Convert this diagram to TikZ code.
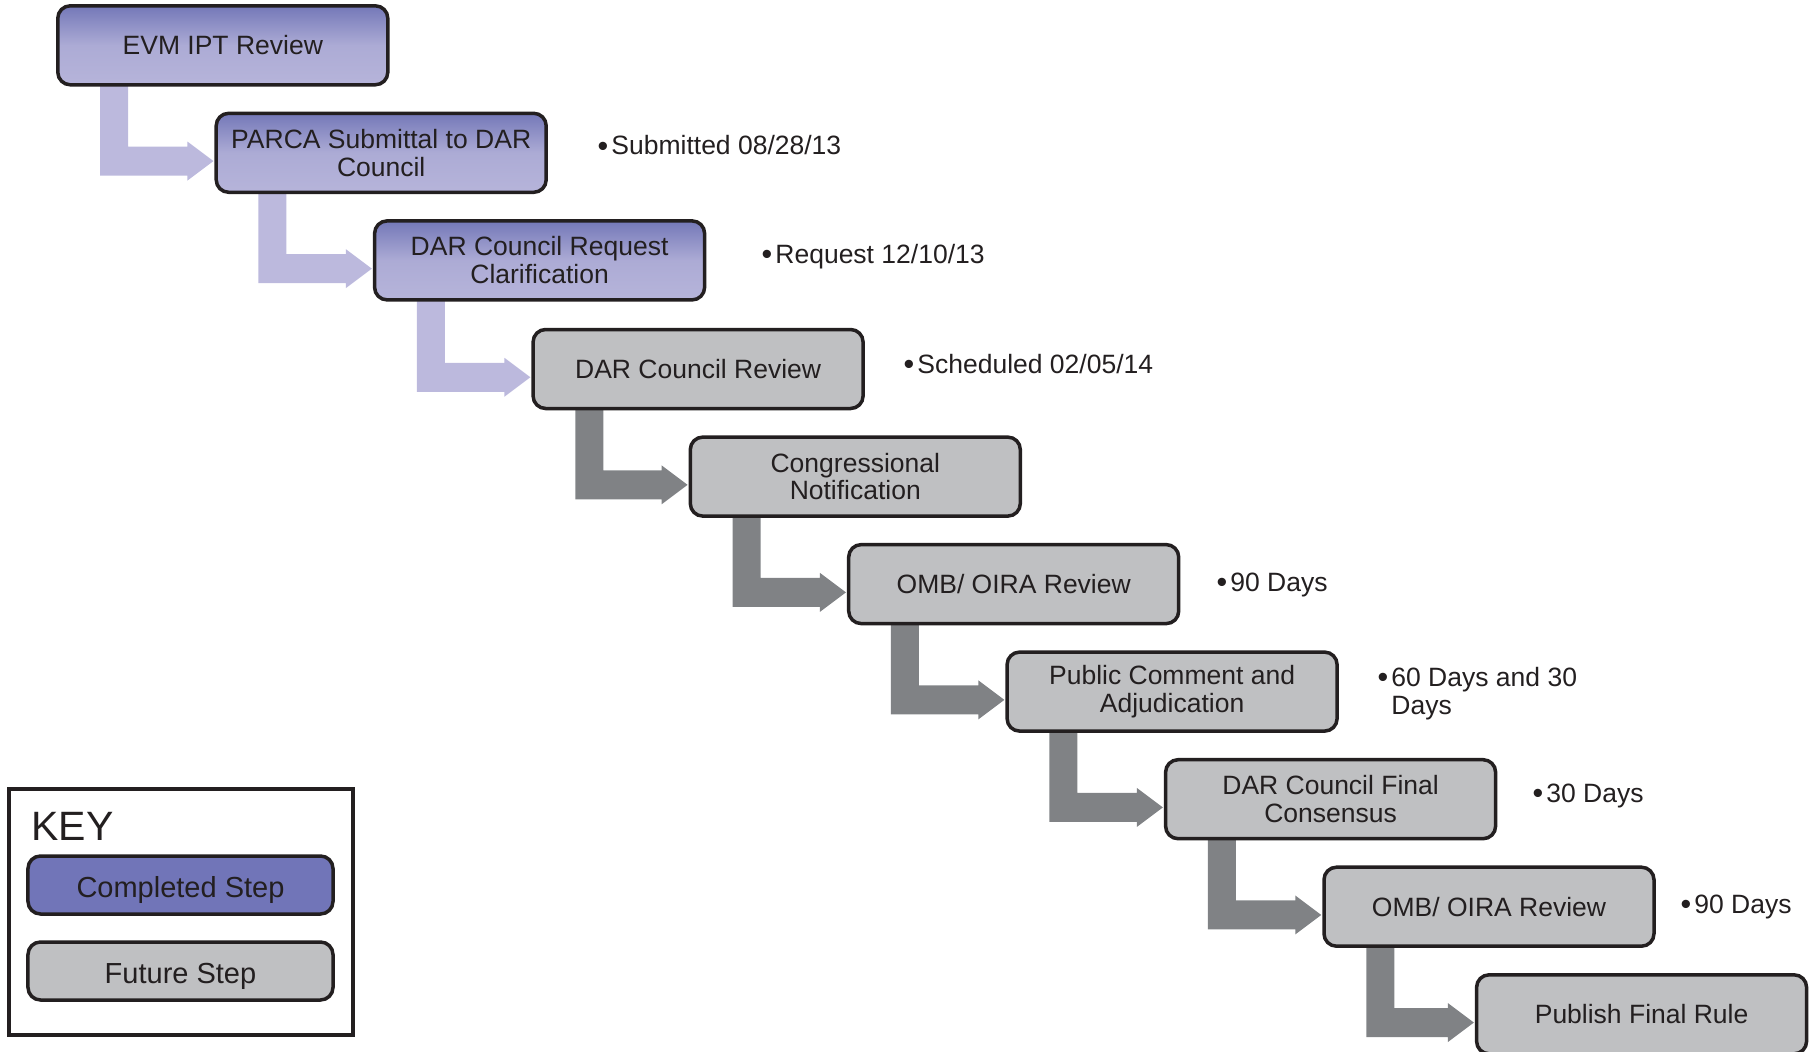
\documentclass[tikz,border=0pt]{standalone}
\usepackage{fontspec}
\setmainfont{Liberation Sans}
\usetikzlibrary{calc}
\definecolor{txt}{HTML}{231F20}
\definecolor{bluetop}{HTML}{7478B8}
\definecolor{bluebot}{HTML}{B6B4DA}
\definecolor{bluekey}{HTML}{7175B8}
\definecolor{greybox}{HTML}{BFC0C2}
\definecolor{greyarrow}{HTML}{808285}
\definecolor{lilarrow}{HTML}{BCB9DD}
\newcommand\blt{\raisebox{-0.45pt}{\scalebox{1.15}{•}}\kern1.3pt}
\tikzset{
  stepbase/.style={rounded corners=5pt, line width=1.4pt, draw=txt, text=txt,
    minimum width=132pt, minimum height=31.6pt, inner sep=0pt, align=center,
    font=\fontsize{10.6}{11.1}\selectfont},
  donebox/.style={stepbase, top color=bluetop, bottom color=bluebot, middle color=bluebot!85!bluetop, shading angle=0},
  futurebox/.style={stepbase, fill=greybox},
  keybox/.style={minimum width=122pt, minimum height=23.2pt, text height=10.3pt, text depth=0pt,
    font=\fontsize{11.6}{13}\selectfont},
  sidetext/.style={anchor=base west, text=txt, inner sep=0pt, align=left,
    font=\fontsize{10.6}{11.1}\selectfont},
}
\newcommand\bendarrow[3]{%
  \path ($(#1.south west)+(44,-4)$) coordinate (ba1)
        ($(#2.north west)+(-1,49.5)$) coordinate (btip);
  \coordinate (bc1) at (ba1 |- btip);
  \fill[#3] (ba1) -- ($(ba1)+(28,0)$) -- ($(bc1)+(28,-14.5)$)
    -- ($(btip)+(-26,-14.5)$) -- ($(btip)+(-26,-19.5)$) -- (btip)
    -- ($(btip)+(-26,19.5)$) -- ($(btip)+(-26,14.5)$)
    -- ($(bc1)+(0,14.5)$) -- cycle;
}
\begin{document}
\begin{tikzpicture}[x=0.4pt,y=-0.4pt]
\useasboundingbox (0,0) rectangle (1813,1052);
% node positions (centres)
\path
  (222.8,45.3)   coordinate (p1)
  (381.2,152.8)  coordinate (p2)
  (539.6,260.4)  coordinate (p3)
  (698.1,369.0)  coordinate (p4)
  (855.3,476.6)  coordinate (p5)
  (1013.7,584.1) coordinate (p6)
  (1172.1,691.6) coordinate (p7)
  (1330.6,799.2) coordinate (p8)
  (1489.0,906.7) coordinate (p9)
  (1641.6,1014.3) coordinate (p10);
% invisible anchor boxes for the connectors
\node[stepbase, draw=none, text opacity=0] (s1) at (p1) {\phantom{x}};
\node[stepbase, draw=none, text opacity=0] (s2) at (p2) {\phantom{x}};
\node[stepbase, draw=none, text opacity=0] (s3) at (p3) {\phantom{x}};
\node[stepbase, draw=none, text opacity=0] (s4) at (p4) {\phantom{x}};
\node[stepbase, draw=none, text opacity=0] (s5) at (p5) {\phantom{x}};
\node[stepbase, draw=none, text opacity=0] (s6) at (p6) {\phantom{x}};
\node[stepbase, draw=none, text opacity=0] (s7) at (p7) {\phantom{x}};
\node[stepbase, draw=none, text opacity=0] (s8) at (p8) {\phantom{x}};
\node[stepbase, draw=none, text opacity=0] (s9) at (p9) {\phantom{x}};
\node[stepbase, draw=none, text opacity=0] (s10) at (p10) {\phantom{x}};
% arrows
\bendarrow{s1}{s2}{lilarrow}
\bendarrow{s2}{s3}{lilarrow}
\bendarrow{s3}{s4}{lilarrow}
\bendarrow{s4}{s5}{greyarrow}
\bendarrow{s5}{s6}{greyarrow}
\bendarrow{s6}{s7}{greyarrow}
\bendarrow{s7}{s8}{greyarrow}
\bendarrow{s8}{s9}{greyarrow}
\bendarrow{s9}{s10}{greyarrow}
% visible boxes
\node[donebox] (b1) at (p1) {EVM IPT Review};
\node[donebox] (b2) at (p2) {PARCA Submittal to DAR\\Council};
\node[donebox] (b3) at (p3) {DAR Council Request\\Clarification};
\node[futurebox] (b4) at (p4) {DAR Council Review};
\node[futurebox] (b5) at (p5) {Congressional\\Notification};
\node[futurebox] (b6) at (p6) {OMB/ OIRA Review};
\node[futurebox] (b7) at (p7) {Public Comment and\\Adjudication};
\node[futurebox] (b8) at (p8) {DAR Council Final\\Consensus};
\node[futurebox] (b9) at (p9) {OMB/ OIRA Review};
\node[futurebox] (b10) at (p10) {Publish Final Rule};
% side notes
\node[sidetext] (n2) at (597,155) {\blt Submitted 08/28/13};
\node[sidetext] (n3) at (761,263) {\blt Request 12/10/13};
\node[sidetext] (n4) at (903,373) {\blt Scheduled 02/05/14};
\node[sidetext] (n6) at (1216,591) {\blt 90 Days};
\node[sidetext] (n7) at (1377,714) {\blt 60 Days and 30\\\hphantom{\blt}Days};
\node[sidetext] (n8) at (1532,802) {\blt 30 Days};
\node[sidetext] (n9) at (1680,913) {\blt 90 Days};
% key
\node[draw=txt, line width=1.4pt, minimum width=137.6pt, minimum height=98.4pt, inner sep=0pt, fill=white] (key) at (181,912) {};
\node[anchor=base west, inner sep=0pt, text=txt, font=\fontsize{16.4}{18}\selectfont] (keytitle) at (31,840) {KEY};
\node[stepbase, fill=bluekey, keybox] (kdone) at (180.5,885) {Completed Step};
\node[futurebox, keybox] (kfut) at (180.5,971) {Future Step};
\end{tikzpicture}
\end{document}
